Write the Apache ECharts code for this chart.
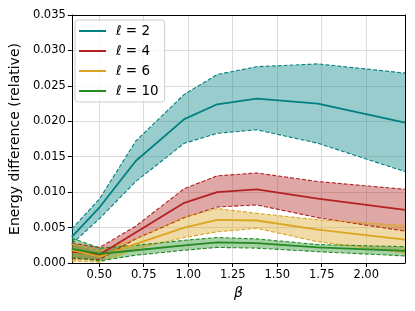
<!DOCTYPE html>
<html>
<head>
<meta charset="utf-8">
<script src="https://cdn.jsdelivr.net/npm/echarts@6/dist/echarts.min.js"></script>
<style>
html,body{margin:0;padding:0;background:#fff;}
#chart{width:415px;height:311px;}
</style>
</head>
<body>
<div id="chart"></div>
<script>
// beta values (x)
const beta = [0.346, 0.503, 0.705, 0.978, 1.163, 1.385, 1.728, 2.218];
const xTicks = [0.5, 0.75, 1.0, 1.25, 1.5, 1.75, 2.0];

// l = 2
const l2Mean = [0.0037, 0.0079, 0.0144, 0.0203, 0.0224, 0.0232, 0.0225, 0.0198];
const l2Hi   = [0.0048, 0.0091, 0.0172, 0.0238, 0.0266, 0.0277, 0.0281, 0.0268];
const l2Lo   = [0.0027, 0.0063, 0.0115, 0.0169, 0.0183, 0.0188, 0.0169, 0.0129];
// l = 4
const l4Mean = [0.0016, 0.0012, 0.0043, 0.0085, 0.0100, 0.0104, 0.0091, 0.0075];
const l4Hi   = [0.0028, 0.0022, 0.0052, 0.0105, 0.0123, 0.0127, 0.0115, 0.0104];
const l4Lo   = [0.0006, 0.0005, 0.0034, 0.0064, 0.0079, 0.0082, 0.0064, 0.0045];
// l = 6
const l6Mean = [0.0018, 0.0009, 0.0027, 0.0050, 0.0061, 0.0060, 0.0047, 0.0033];
const l6Hi   = [0.0027, 0.0017, 0.0034, 0.0065, 0.0077, 0.0070, 0.0061, 0.0053];
const l6Lo   = [0.0003, 0.0001, 0.0020, 0.0036, 0.0044, 0.0049, 0.0030, 0.0014];
// l = 10
const l10Mean = [0.0020, 0.0013, 0.0018, 0.0025, 0.0029, 0.0028, 0.0022, 0.0017];
const l10Hi   = [0.0035, 0.0021, 0.0025, 0.0032, 0.0036, 0.0034, 0.0026, 0.0023];
const l10Lo   = [0.0008, 0.0003, 0.0011, 0.0018, 0.0022, 0.0021, 0.0016, 0.0010];

const groups = [
  {name: 'ℓ = 2',  color: '#008080', fill: 'rgba(0,128,128,0.4)',   mean: l2Mean,  hi: l2Hi,  lo: l2Lo},
  {name: 'ℓ = 4',  color: '#B22222', fill: 'rgba(178,34,34,0.4)',   mean: l4Mean,  hi: l4Hi,  lo: l4Lo},
  {name: 'ℓ = 6',  color: '#DAA520', fill: 'rgba(218,165,32,0.4)',  mean: l6Mean,  hi: l6Hi,  lo: l6Lo},
  {name: 'ℓ = 10', color: '#228B22', fill: 'rgba(34,139,34,0.4)',   mean: l10Mean, hi: l10Hi, lo: l10Lo}
];

const FONT = 'DejaVu Sans';
const series = [];

groups.forEach(g => {
  series.push({
    type: 'custom',
    name: g.name + ' band',
    silent: true,
    z: 1,
    xAxisIndex: 0, yAxisIndex: 0,
    data: beta.map((b, i) => [b, g.lo[i], g.hi[i]]),
    encode: {x: 0, y: [1, 2]},
    renderItem: function (params, api) {
      if (params.dataIndex !== 0) return null;
      const pts = [];
      for (let i = 0; i < beta.length; i++) pts.push(api.coord([beta[i], g.hi[i]]));
      for (let i = beta.length - 1; i >= 0; i--) pts.push(api.coord([beta[i], g.lo[i]]));
      return {type: 'polygon', shape: {points: pts}, style: {fill: g.fill, stroke: null}};
    }
  });
});

groups.forEach(g => {
  series.push({
    type: 'line', name: g.name, z: 3, symbol: 'none', silent: true,
    data: beta.map((b, i) => [b, g.mean[i]]),
    lineStyle: {color: g.color, width: 1.8},
    itemStyle: {color: g.color}
  });
  ['hi', 'lo'].forEach(k => {
    series.push({
      type: 'line', name: g.name + ' ' + k, z: 2, symbol: 'none', silent: true,
      data: beta.map((b, i) => [b, g[k][i]]),
      lineStyle: {color: g.color, width: 1.1, type: [4, 2]},
      itemStyle: {color: g.color}
    });
  });
});

const chart = echarts.init(document.getElementById('chart'), null, {renderer: 'canvas'});
chart.setOption({
  animation: false,
  backgroundColor: '#fff',
  grid: {left: 68, right: 10, top: 15, bottom: 48, containLabel: false},
  legend: {
    data: groups.map(g => g.name),
    orient: 'vertical',
    left: 75, top: 20,
    padding: [3, 6, 3, 4],
    itemGap: 4,
    itemWidth: 27, itemHeight: 2,
    icon: 'rect',
    backgroundColor: 'rgba(255,255,255,0.8)',
    borderColor: '#cccccc', borderWidth: 1, borderRadius: 3,
    textStyle: {fontFamily: FONT, fontSize: 13.5, color: '#000', lineHeight: 16, padding: [0, 0, 0, 5]}
  },
  xAxis: [{
    type: 'value', min: 0.346, max: 2.218,
    name: 'β', nameLocation: 'middle', nameGap: 22,
    nameTextStyle: {fontFamily: FONT, fontSize: 14, fontStyle: 'italic', color: '#000'},
    axisLine: {show: true, onZero: false, lineStyle: {color: '#000', width: 1}},
    axisTick: {show: true, length: 4, customValues: xTicks, lineStyle: {color: '#000'}},
    axisLabel: {customValues: xTicks, formatter: v => v.toFixed(2), fontFamily: FONT, fontSize: 11.5, color: '#000', margin: 6},
    splitLine: {show: true, lineStyle: {color: '#dcdcdc', width: 1}}
  }, {
    type: 'value', min: 0.346, max: 2.218, position: 'top',
    axisLine: {show: true, onZero: false, lineStyle: {color: '#000', width: 1}},
    axisTick: {show: false}, axisLabel: {show: false}, splitLine: {show: false}
  }],
  yAxis: [{
    type: 'value', min: 0, max: 0.035, interval: 0.005,
    name: 'Energy difference (relative)', nameLocation: 'middle', nameGap: 44,
    nameTextStyle: {fontFamily: FONT, fontSize: 14, color: '#000'},
    axisLine: {show: true, onZero: false, lineStyle: {color: '#000', width: 1}},
    axisTick: {show: true, length: 4, lineStyle: {color: '#000'}},
    axisLabel: {formatter: v => v.toFixed(3), fontFamily: FONT, fontSize: 11.5, color: '#000', margin: 6},
    splitLine: {show: true, lineStyle: {color: '#dcdcdc', width: 1}}
  }, {
    type: 'value', min: 0, max: 0.035, position: 'right',
    axisLine: {show: true, onZero: false, lineStyle: {color: '#000', width: 1}},
    axisTick: {show: false}, axisLabel: {show: false}, splitLine: {show: false}
  }],
  series: series
});
</script>
</body>
</html>
